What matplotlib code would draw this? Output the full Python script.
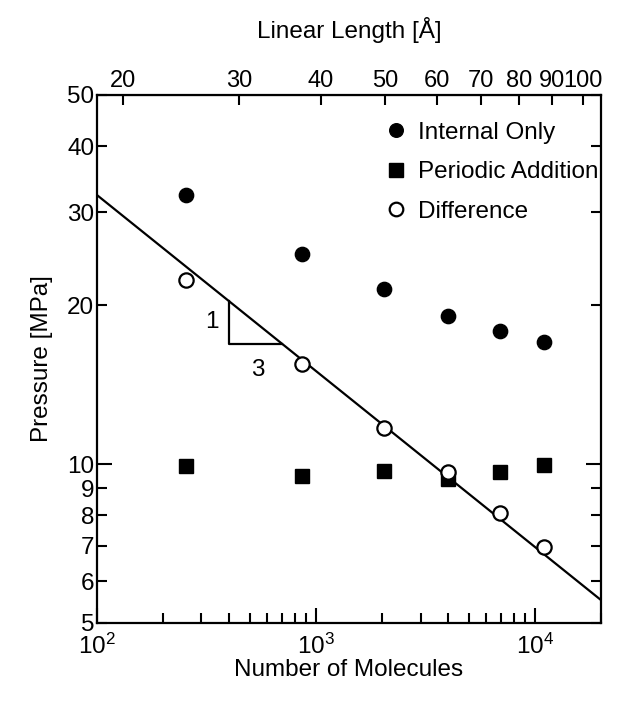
import numpy as np
import matplotlib
matplotlib.use('Agg')
import matplotlib.pyplot as plt
from matplotlib.ticker import FixedLocator, FixedFormatter, NullLocator, LogLocator, NullFormatter

plt.rcParams['font.family'] = ['Liberation Sans', 'DejaVu Sans']
plt.rcParams['mathtext.fontset'] = 'custom'
plt.rcParams['mathtext.rm'] = 'Liberation Sans'

# data
n_molecules = [256, 864, 2048, 4000, 6912, 10976]
internal_only = [32.3, 25.0, 21.5, 19.1, 17.9, 17.0]
periodic_add = [9.92, 9.51, 9.72, 9.36, 9.67, 9.96]
difference = [22.3, 15.5, 11.7, 9.65, 8.07, 6.97]

# fitted N^(-1/3) line
fit_coef = 150.0
fit_n = [100, 20000]

# slope triangle (corner N, end N) and label positions
tri_n = [400, 700]
label_1 = (335, 18.6)
label_3 = (545, 15.1)

# linear length L = a * N^(1/3)
length_coef = 3.93
length_ticks = [20, 30, 40, 50, 60, 70, 80, 90, 100]

y_ticks = [5, 6, 7, 8, 9, 20, 30, 40, 50]

FS = 17.5


def fit(n):
    return fit_coef * np.asarray(n, dtype=float) ** (-1.0 / 3.0)


fig = plt.figure(figsize=(6.38, 7.03), dpi=100)
ax = fig.add_axes([0.152, 0.1138, 0.790, 0.7511])

ax.plot(n_molecules, internal_only, 'o', color='black', ms=10.3, label='Internal Only', zorder=3)
ax.plot(n_molecules, periodic_add, 's', color='black', ms=10.5, label='Periodic Addition', zorder=3)

fn = np.array(fit_n, dtype=float)
ax.plot(fn, fit(fn), color='black', lw=1.6, zorder=2)
ax.plot(n_molecules, difference, 'o', mfc='white', mec='black', mew=1.6, ms=10.3,
        label='Difference', zorder=4)

# slope triangle
p_top = fit(tri_n[0])
p_bot = fit(tri_n[1])
ax.plot([tri_n[0], tri_n[0], tri_n[1]], [p_top, p_bot, p_bot], color='black', lw=1.6, zorder=2)
ax.text(label_1[0], label_1[1], '1', fontsize=FS, ha='center', va='center')
ax.text(label_3[0], label_3[1], '3', fontsize=FS, ha='center', va='center')

ax.set_xscale('log')
ax.set_yscale('log')
ax.set_xlim(100, 20000)
ax.set_ylim(5, 50)

ax.xaxis.set_major_locator(FixedLocator([100, 1000, 10000]))
ax.xaxis.set_minor_locator(LogLocator(base=10, subs=np.arange(2, 10)))
ax.xaxis.set_minor_formatter(NullFormatter())

ax.yaxis.set_major_locator(FixedLocator([10]))
ax.yaxis.set_major_formatter(FixedFormatter(['10']))
ax.yaxis.set_minor_locator(FixedLocator(y_ticks))
ax.yaxis.set_minor_formatter(FixedFormatter([str(v) for v in y_ticks]))

ax.tick_params(which='both', direction='in', labelsize=FS, width=1.5,
               bottom=True, left=True, right=True, top=False)
ax.tick_params(which='major', length=11)
ax.tick_params(which='minor', length=7)
ax.tick_params(axis='y', which='both', pad=2)
ax.tick_params(axis='x', which='both', pad=8)

for s in ax.spines.values():
    s.set_linewidth(1.6)

ax.set_xlabel('Number of Molecules', fontsize=FS, labelpad=0)
ax.set_ylabel('Pressure [MPa]', fontsize=FS, labelpad=10)

sec = ax.secondary_xaxis('top', functions=(lambda n: length_coef * np.cbrt(n),
                                           lambda l: (l / length_coef) ** 3))
sec.xaxis.set_major_locator(FixedLocator(length_ticks))
sec.xaxis.set_major_formatter(FixedFormatter([str(v) for v in length_ticks]))
sec.xaxis.set_minor_locator(NullLocator())
sec.tick_params(direction='in', length=7, width=1.5, labelsize=17, pad=2)
sec.set_xlabel('Linear Length [Å]', fontsize=FS, labelpad=23)

ax.legend(loc='upper left', bbox_to_anchor=(0.545, 0.968), frameon=False, fontsize=FS,
          handletextpad=0.3, labelspacing=0.72, borderaxespad=0.0, handlelength=1.2,
          markerscale=0.95)

fig.savefig('out.png', dpi=100)
